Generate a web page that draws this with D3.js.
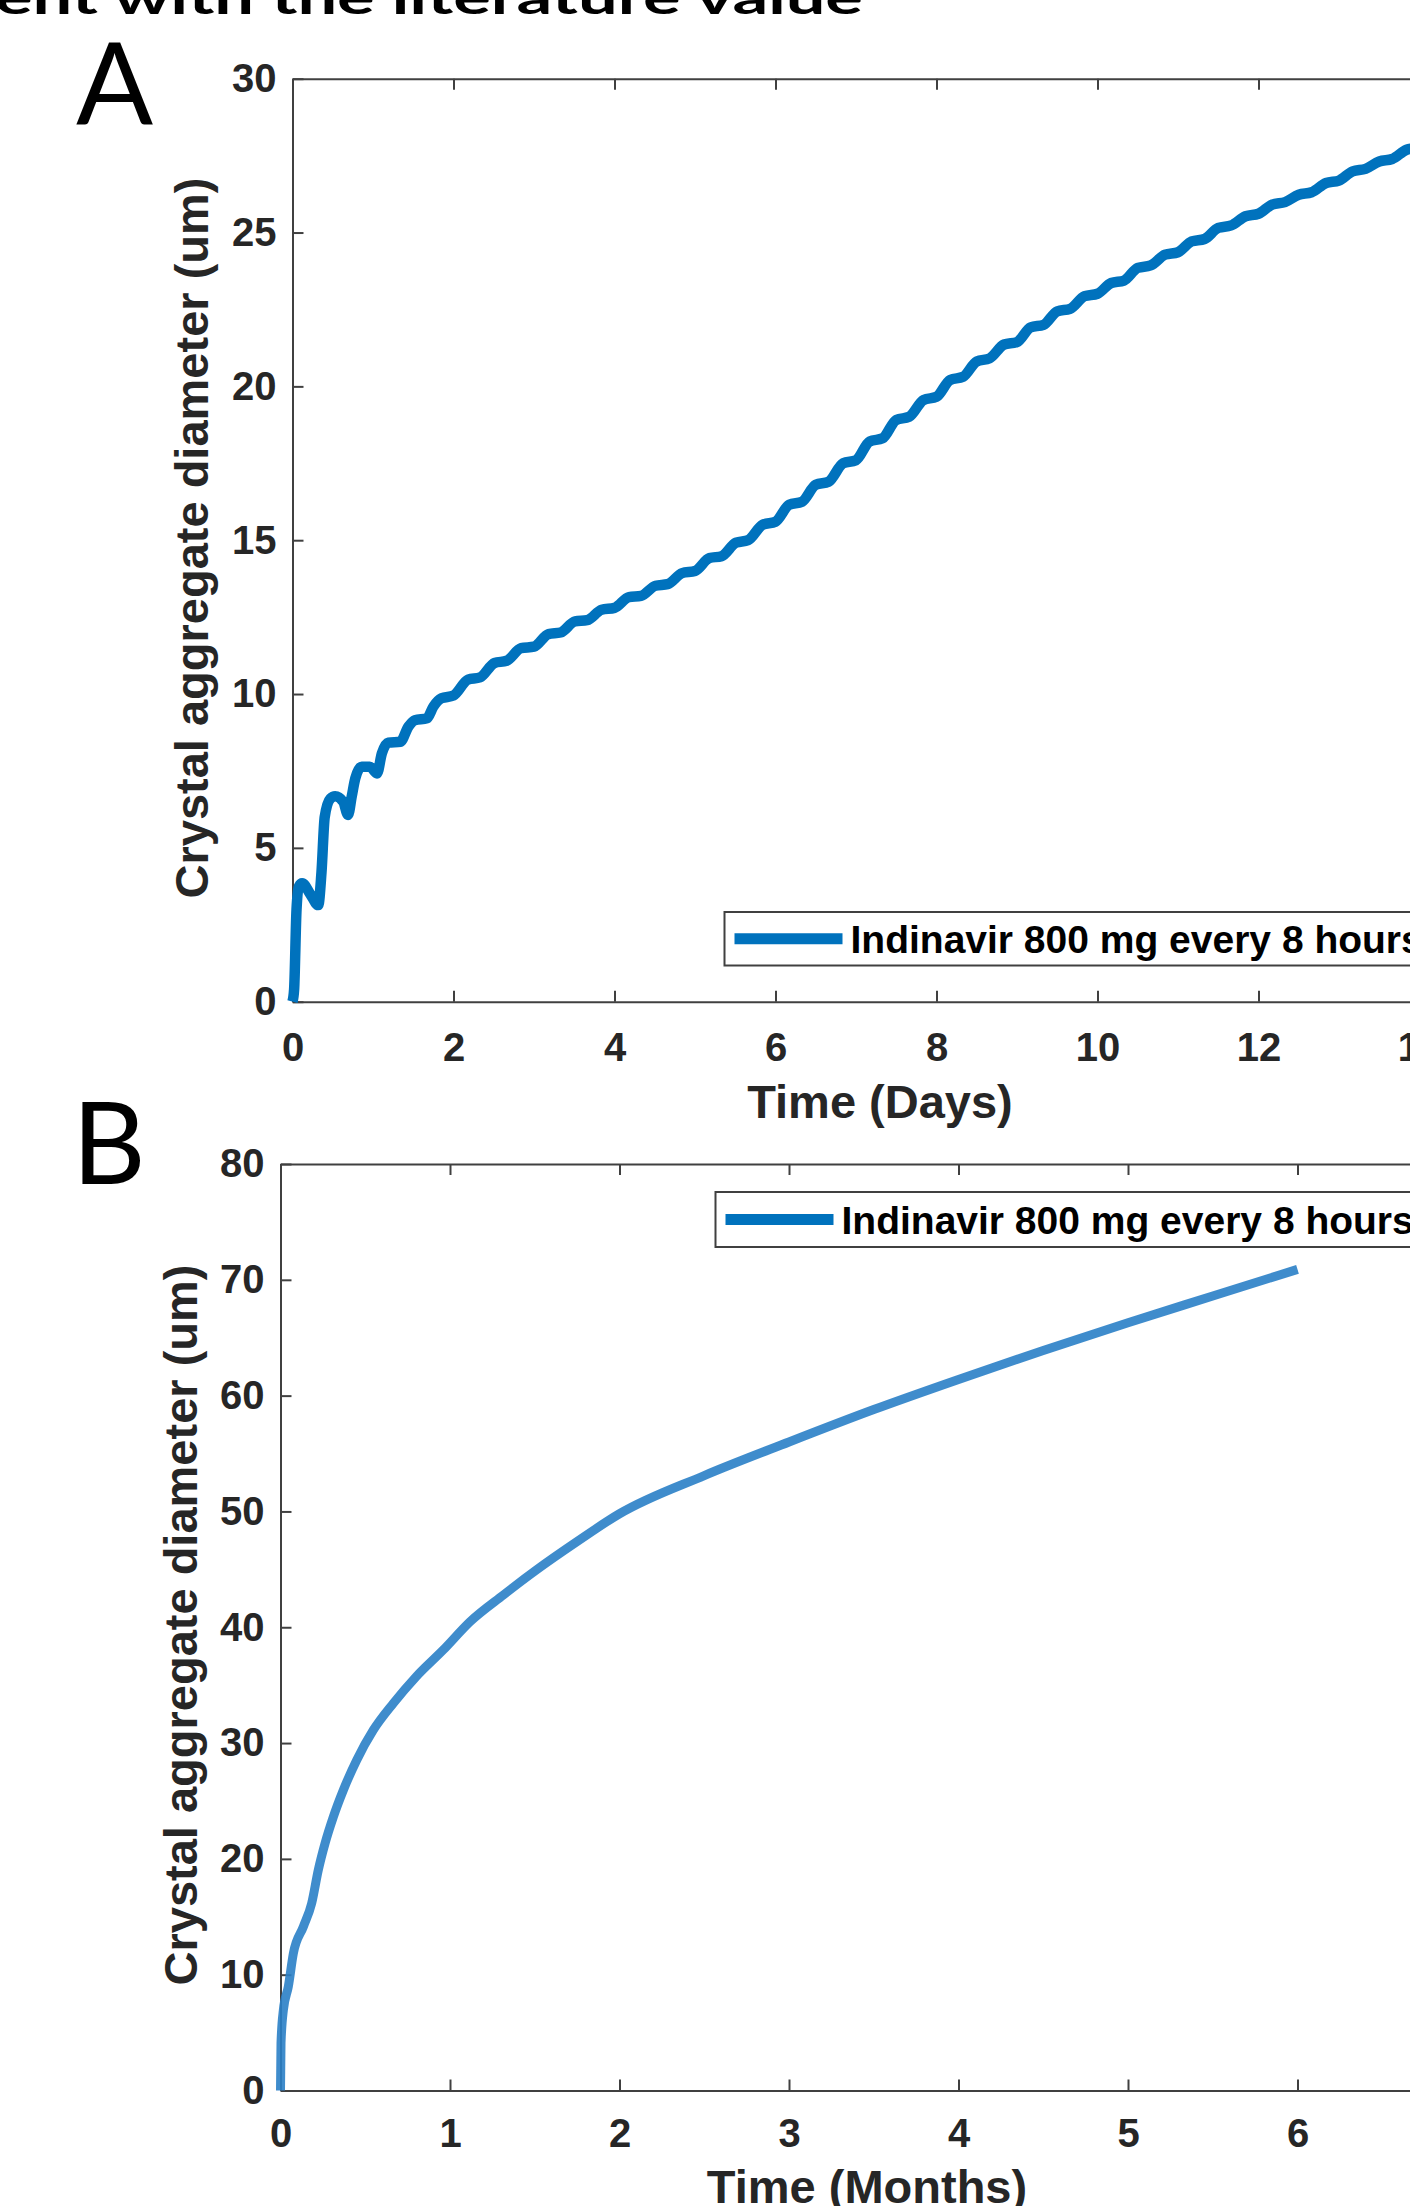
<!DOCTYPE html>
<html>
<head>
<meta charset="utf-8">
<script src="https://cdn.jsdelivr.net/npm/d3@7"></script>
<style>
  body { margin: 0; background: #fff; }
  svg { display: block; }
</style>
</head>
<body>
<div id="chart"></div>
<script>

// panel A: diameter over 14 days (8-hourly dosing)
const daysA = [0.00, 0.02, 0.05, 0.08, 0.12, 0.22, 0.32, 0.36, 0.40, 0.47, 0.53, 0.63, 0.69, 0.735, 0.78, 0.86, 0.96, 1.05, 1.11, 1.19,
    1.34, 1.44, 1.52, 1.67, 1.75, 1.85, 2.00,
    2.18, 2.33, 2.51, 2.66, 2.84, 3.00, 3.18, 3.33, 3.51, 3.66, 3.84, 4.00, 4.18, 4.33, 4.51, 4.66, 4.84, 5.00, 5.18, 5.33, 5.51, 5.66, 5.84, 6.00,
    6.17, 6.33, 6.50, 6.66, 6.84, 7.00, 7.17, 7.33, 7.50, 7.66, 7.84, 8.00, 8.17, 8.33, 8.50, 8.66, 8.84, 9.00, 9.17, 9.33,
    9.50, 9.66, 9.84, 10.00, 10.17, 10.33, 10.50, 10.66, 10.84, 11.00, 11.17, 11.33, 11.50, 11.66, 11.84, 12.00, 12.17, 12.33,
    12.50, 12.66, 12.84, 13.00, 13.17, 13.33, 13.50, 13.66, 13.84, 14.00, 14.17, 14.33];
const diamA = [0.0, 0.4, 3.0, 3.75, 3.85, 3.5, 3.14, 4.2, 6.0, 6.6, 6.68, 6.5, 6.07, 6.66, 7.26, 7.64, 7.64, 7.42, 8.07, 8.42,
    8.45, 8.94, 9.15, 9.21, 9.59, 9.86, 9.95,
    10.47, 10.54, 11.01, 11.08, 11.49, 11.54, 11.95, 12.00, 12.36, 12.40, 12.74, 12.80, 13.15, 13.19, 13.52, 13.57, 13.93, 14.00, 14.42, 14.48, 14.92, 15.00, 15.50, 15.60,
    16.15, 16.25, 16.80, 16.90, 17.50, 17.60, 18.21, 18.31, 18.91, 19.01, 19.56, 19.66, 20.21, 20.31, 20.81, 20.91, 21.36, 21.44, 21.92, 22.00,
    22.44, 22.52, 22.93, 23.01, 23.36, 23.44, 23.85, 23.93, 24.28, 24.36, 24.71, 24.79, 25.15, 25.23, 25.53, 25.61, 25.91, 25.99,
    26.23, 26.31, 26.61, 26.69, 26.99, 27.07, 27.31, 27.39, 27.69, 27.77, 28.01, 28.09];

// panel B: diameter over 6 months
const monthsB = [0, 0.003, 0.017, 0.046, 0.076, 0.135, 0.184, 0.223, 0.263, 0.312, 0.371, 0.45, 0.548, 0.666, 0.80, 0.96,
    1.118, 1.315, 1.51, 1.75, 2.0, 2.5, 3.0, 3.5, 4.0, 4.5, 5.0, 5.5, 6.0];
const diamB = [0, 4.1, 6.95, 8.96, 11.85, 14.15, 16.17, 19.04, 21.35, 23.64, 25.95, 28.54, 31.13, 33.44, 35.73, 38.04,
    40.48, 42.79, 44.95, 47.4, 49.8, 53.1, 56.0, 58.8, 61.4, 63.9, 66.3, 68.6, 70.9];

const xTicksA = [0, 2, 4, 6, 8, 10, 12, 14];
const yTicksA = [0, 5, 10, 15, 20, 25, 30];
const xTicksB = [0, 1, 2, 3, 4, 5, 6, 7];
const yTicksB = [0, 10, 20, 30, 40, 50, 60, 70, 80];

const seriesName = "Indinavir 800 mg every 8 hours";
const titleText = "ent with the literature value";

const WIDTH = 1410, HEIGHT = 2206;
const BLUE = "#0072BD", INK = "#262626", AXIS = "#404040";
const ARIAL = "'Liberation Sans', Arial, sans-serif";
const CALIBRI = "Lato, 'Open Sans', sans-serif";

const svg = d3.select("#chart")
    .append("svg")
    .attr("width", WIDTH)
    .attr("height", HEIGHT);

svg.append("rect").attr("width", WIDTH).attr("height", HEIGHT).attr("fill", "#fff");

// cut-off heading at the very top
svg.append("text")
    .attr("x", -5)
    .attr("y", 14)
    .attr("textLength", 868)
    .attr("lengthAdjust", "spacingAndGlyphs")
    .attr("font-family", CALIBRI)
    .attr("font-weight", 700)
    .attr("font-size", "46px")
    .attr("fill", "#000")
    .text(titleText);

function drawPanel(p) {
    const x = d3.scaleLinear().domain(p.xDomain).range([p.left, p.right]);
    const y = d3.scaleLinear().domain(p.yDomain).range([p.bottom, p.top]);
    const g = svg.append("g");

    // panel letter
    g.append("text")
        .attr("x", p.letterX)
        .attr("y", p.letterY)
        .attr("font-family", CALIBRI)
        .attr("font-size", "114px")
        .attr("fill", "#000")
        .text(p.letter);

    // top border with inward ticks
    g.append("g")
        .attr("transform", `translate(0, ${p.top})`)
        .call(d3.axisTop(x).tickValues(p.xTicks).tickSize(-11).tickSizeOuter(0).tickFormat(""));

    g.append("g")
        .attr("transform", `translate(0, ${p.bottom})`)
        .call(d3.axisBottom(x).tickValues(p.xTicks).tickFormat(d3.format("d"))
            .tickSize(-11).tickSizeOuter(0).tickPadding(p.xPad));

    g.append("g")
        .attr("transform", `translate(${p.left}, 0)`)
        .call(d3.axisLeft(y).tickValues(p.yTicks).tickFormat(d3.format("d"))
            .tickSize(-11).tickSizeOuter(0).tickPadding(16));

    g.selectAll(".domain, .tick line")
        .attr("stroke", AXIS)
        .attr("stroke-width", 2);
    g.selectAll(".tick text")
        .attr("font-family", ARIAL)
        .attr("font-weight", 700)
        .attr("font-size", "40px")
        .attr("fill", INK);

    // the curve
    const line = d3.line()
        .x(d => x(d[0]))
        .y(d => y(d[1]))
        .curve(d3.curveMonotoneX);

    g.append("path")
        .datum(d3.zip(p.xs, p.ys))
        .attr("d", line)
        .attr("fill", "none")
        .attr("stroke", p.lineColor)
        .attr("stroke-opacity", p.lineOpacity)
        .attr("stroke-width", p.lineWidth)
        .attr("stroke-linejoin", "round");

    // axis titles
    g.append("text")
        .attr("x", p.xLabelX)
        .attr("y", p.xLabelY)
        .attr("text-anchor", "middle")
        .attr("font-family", ARIAL)
        .attr("font-weight", 700)
        .attr("font-size", "47px")
        .attr("fill", INK)
        .text(p.xLabel);

    g.append("text")
        .attr("transform", "rotate(-90)")
        .attr("x", -p.yLabelY)
        .attr("y", p.yLabelX)
        .attr("text-anchor", "middle")
        .attr("font-family", ARIAL)
        .attr("font-weight", 700)
        .attr("font-size", "47px")
        .attr("fill", INK)
        .text("Crystal aggregate diameter (um)");

    // legend box, runs off the right edge
    g.append("rect")
        .attr("x", p.legX)
        .attr("y", p.legY)
        .attr("width", 900)
        .attr("height", p.legH)
        .attr("fill", "#fff")
        .attr("stroke", AXIS)
        .attr("stroke-width", 2);

    g.append("line")
        .attr("x1", p.legX + 10)
        .attr("x2", p.legX + 118)
        .attr("y1", p.legY + p.legH / 2)
        .attr("y2", p.legY + p.legH / 2)
        .attr("stroke", BLUE)
        .attr("stroke-width", 11);

    g.append("text")
        .attr("x", p.legX + 126)
        .attr("y", p.legY + p.legH / 2 + 14)
        .attr("font-family", ARIAL)
        .attr("font-weight", 700)
        .attr("font-size", "39px")
        .attr("fill", "#000")
        .text(seriesName);
}

drawPanel({
    letter: "A", letterX: 76, letterY: 124,
    xDomain: [0, 15], yDomain: [0, 30],
    left: 292.5, right: 292.5 + 15 * 80.5, top: 78.7, bottom: 1001.7,
    xTicks: xTicksA, yTicks: yTicksA, xPad: 31,
    xs: daysA, ys: diamA,
    lineColor: BLUE, lineOpacity: 1, lineWidth: 10.5,
    xLabel: "Time (Days)", xLabelX: 880, xLabelY: 1118,
    yLabelX: 208, yLabelY: 538,
    legX: 724.5, legY: 912, legH: 53.5
});

drawPanel({
    letter: "B", letterX: 72, letterY: 1184,
    xDomain: [0, 7], yDomain: [0, 80],
    left: 280.5, right: 280.5 + 7 * 169.5, top: 1164, bottom: 2090.5,
    xTicks: xTicksB, yTicks: yTicksB, xPad: 28,
    xs: monthsB, ys: diamB,
    lineColor: "#2a80c6", lineOpacity: 0.9, lineWidth: 9,
    xLabel: "Time (Months)", xLabelX: 867, xLabelY: 2203,
    yLabelX: 197, yLabelY: 1625,
    legX: 715.5, legY: 1192, legH: 55
});

</script>
</body>
</html>
